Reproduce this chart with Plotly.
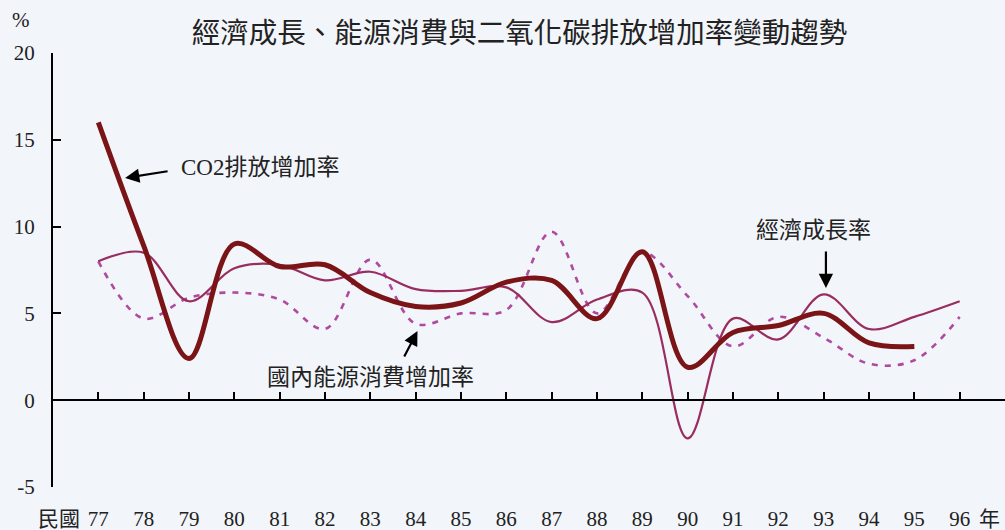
import plotly.graph_objects as go

years = list(range(77, 97))
year_labels = [str(y) for y in years]

gdp = [8.0, 8.5, 5.7, 7.6, 7.8, 6.9, 7.4, 6.4, 6.3, 6.5, 4.5, 5.8, 6.2, -2.2, 4.7, 3.5, 6.1, 4.1, 4.8, 5.7]
energy = [8.0, 4.7, 5.9, 6.2, 5.8, 4.1, 8.1, 4.4, 5.0, 5.2, 9.7, 5.0, 8.5, 6.0, 3.1, 4.8, 3.6, 2.1, 2.3, 4.8]
co2_years = list(range(77, 96))
co2 = [16.0, 8.9, 2.4, 9.0, 7.7, 7.8, 6.2, 5.4, 5.6, 6.8, 6.9, 4.7, 8.55, 1.9, 3.9, 4.3, 5.0, 3.3, 3.1]

yticks = [-5, 0, 5, 10, 15, 20]
ytick_labels = ["-5", "0", "5", "10", "15", "20"]

LAT = "'Liberation Serif', 'Noto Sans CJK TC', serif"
BG = "#f2f5fa"

fig = go.Figure()
fig.add_trace(go.Scatter(x=years, y=energy, mode="lines", line=dict(color="#b04a9e", width=2.6, dash="6px,7px", shape="spline", smoothing=1.0), hoverinfo="skip", showlegend=False))
fig.add_trace(go.Scatter(x=years, y=gdp, mode="lines", line=dict(color="#9a2d5f", width=2.2, shape="spline", smoothing=1.0), hoverinfo="skip", showlegend=False))
fig.add_trace(go.Scatter(x=co2_years, y=co2, mode="lines", line=dict(color="#7b1416", width=5, shape="spline", smoothing=1.0), hoverinfo="skip", showlegend=False))
# helper trace to carry the axis drawn at y=0
fig.add_trace(go.Scatter(x=years, y=gdp, xaxis="x2", mode="lines", opacity=0, hoverinfo="skip", showlegend=False))

fig.update_layout(
    width=1005, height=530,
    margin=dict(l=53, r=0, t=53, b=43),
    paper_bgcolor=BG, plot_bgcolor=BG,
    font=dict(family=LAT, size=21, color="#222222"),
    title=dict(text="經濟成長、能源消費與二氧化碳排放增加率變動趨勢", x=0.517, xanchor="center", y=1 - 33 / 530, yanchor="middle", yref="container",
               font=dict(family="'Noto Sans CJK TC', sans-serif", size=28.5, color="#222222"), automargin=False),
    xaxis=dict(range=[76, 97], tickvals=years, ticktext=year_labels, showline=False, showgrid=False, zeroline=False, automargin=False,
               ticks="outside", ticklen=13, tickcolor="rgba(0,0,0,0)", tickfont=dict(family=LAT, size=21, color="#222222")),
    xaxis2=dict(range=[76, 97], overlaying="x", anchor="free", position=0.2, tickvals=years, showticklabels=False, automargin=False,
                showline=True, linecolor="black", linewidth=2, ticks="inside", ticklen=7, tickwidth=2, tickcolor="black",
                showgrid=False, zeroline=False),
    yaxis=dict(range=[-5, 20], tickvals=yticks, ticktext=ytick_labels, showline=True, linecolor="black", linewidth=2, ticks="inside", ticklen=8,
               tickwidth=2, tickcolor="black", showgrid=False, zeroline=False, automargin=False, ticklabelstandoff=12,
               tickfont=dict(family=LAT, size=21, color="#222222")),
)

ann_font = dict(family=LAT, size=23, color="#222222")
# arrows
fig.add_annotation(x=77.59, y=12.8, xref="x", yref="y", text="", showarrow=True, ax=44, ay=-7, arrowhead=2, arrowsize=1.3, arrowwidth=2.2, arrowcolor="black")
fig.add_annotation(x=84.04, y=3.98, xref="x", yref="y", text="", showarrow=True, ax=-14, ay=27, arrowhead=2, arrowsize=1.3, arrowwidth=2.2, arrowcolor="black")
fig.add_annotation(x=93.05, y=6.46, xref="x", yref="y", text="", showarrow=True, ax=0, ay=-38, arrowhead=2, arrowsize=1.3, arrowwidth=2.2, arrowcolor="black")
# labels
fig.add_annotation(x=80.56, y=13.4, xref="x", yref="y", text="CO2排放增加率", showarrow=False, font=ann_font, xanchor="center", yanchor="middle")
fig.add_annotation(x=83.0, y=1.33, xref="x", yref="y", text="國內能源消費增加率", showarrow=False, font=ann_font, xanchor="center", yanchor="middle")
fig.add_annotation(x=92.78, y=9.8, xref="x", yref="y", text="經濟成長率", showarrow=False, font=ann_font, xanchor="center", yanchor="middle")
# axis unit labels
unit_font = dict(family=LAT, size=21, color="#222222")
fig.add_annotation(x=-0.0336, y=1.076, xref="paper", yref="paper", text="%", showarrow=False, font=unit_font, xanchor="center", yanchor="middle")
fig.add_annotation(x=0.0063, y=-0.0737, xref="paper", yref="paper", text="民國", showarrow=False, font=unit_font, xanchor="center", yanchor="middle")
fig.add_annotation(x=0.984, y=-0.0737, xref="paper", yref="paper", text="年", showarrow=False, font=unit_font, xanchor="center", yanchor="middle")

fig.write_html("out.html", config={"displayModeBar": False},
               post_script="document.body.style.margin='0';document.body.style.background='" + BG + "';")
